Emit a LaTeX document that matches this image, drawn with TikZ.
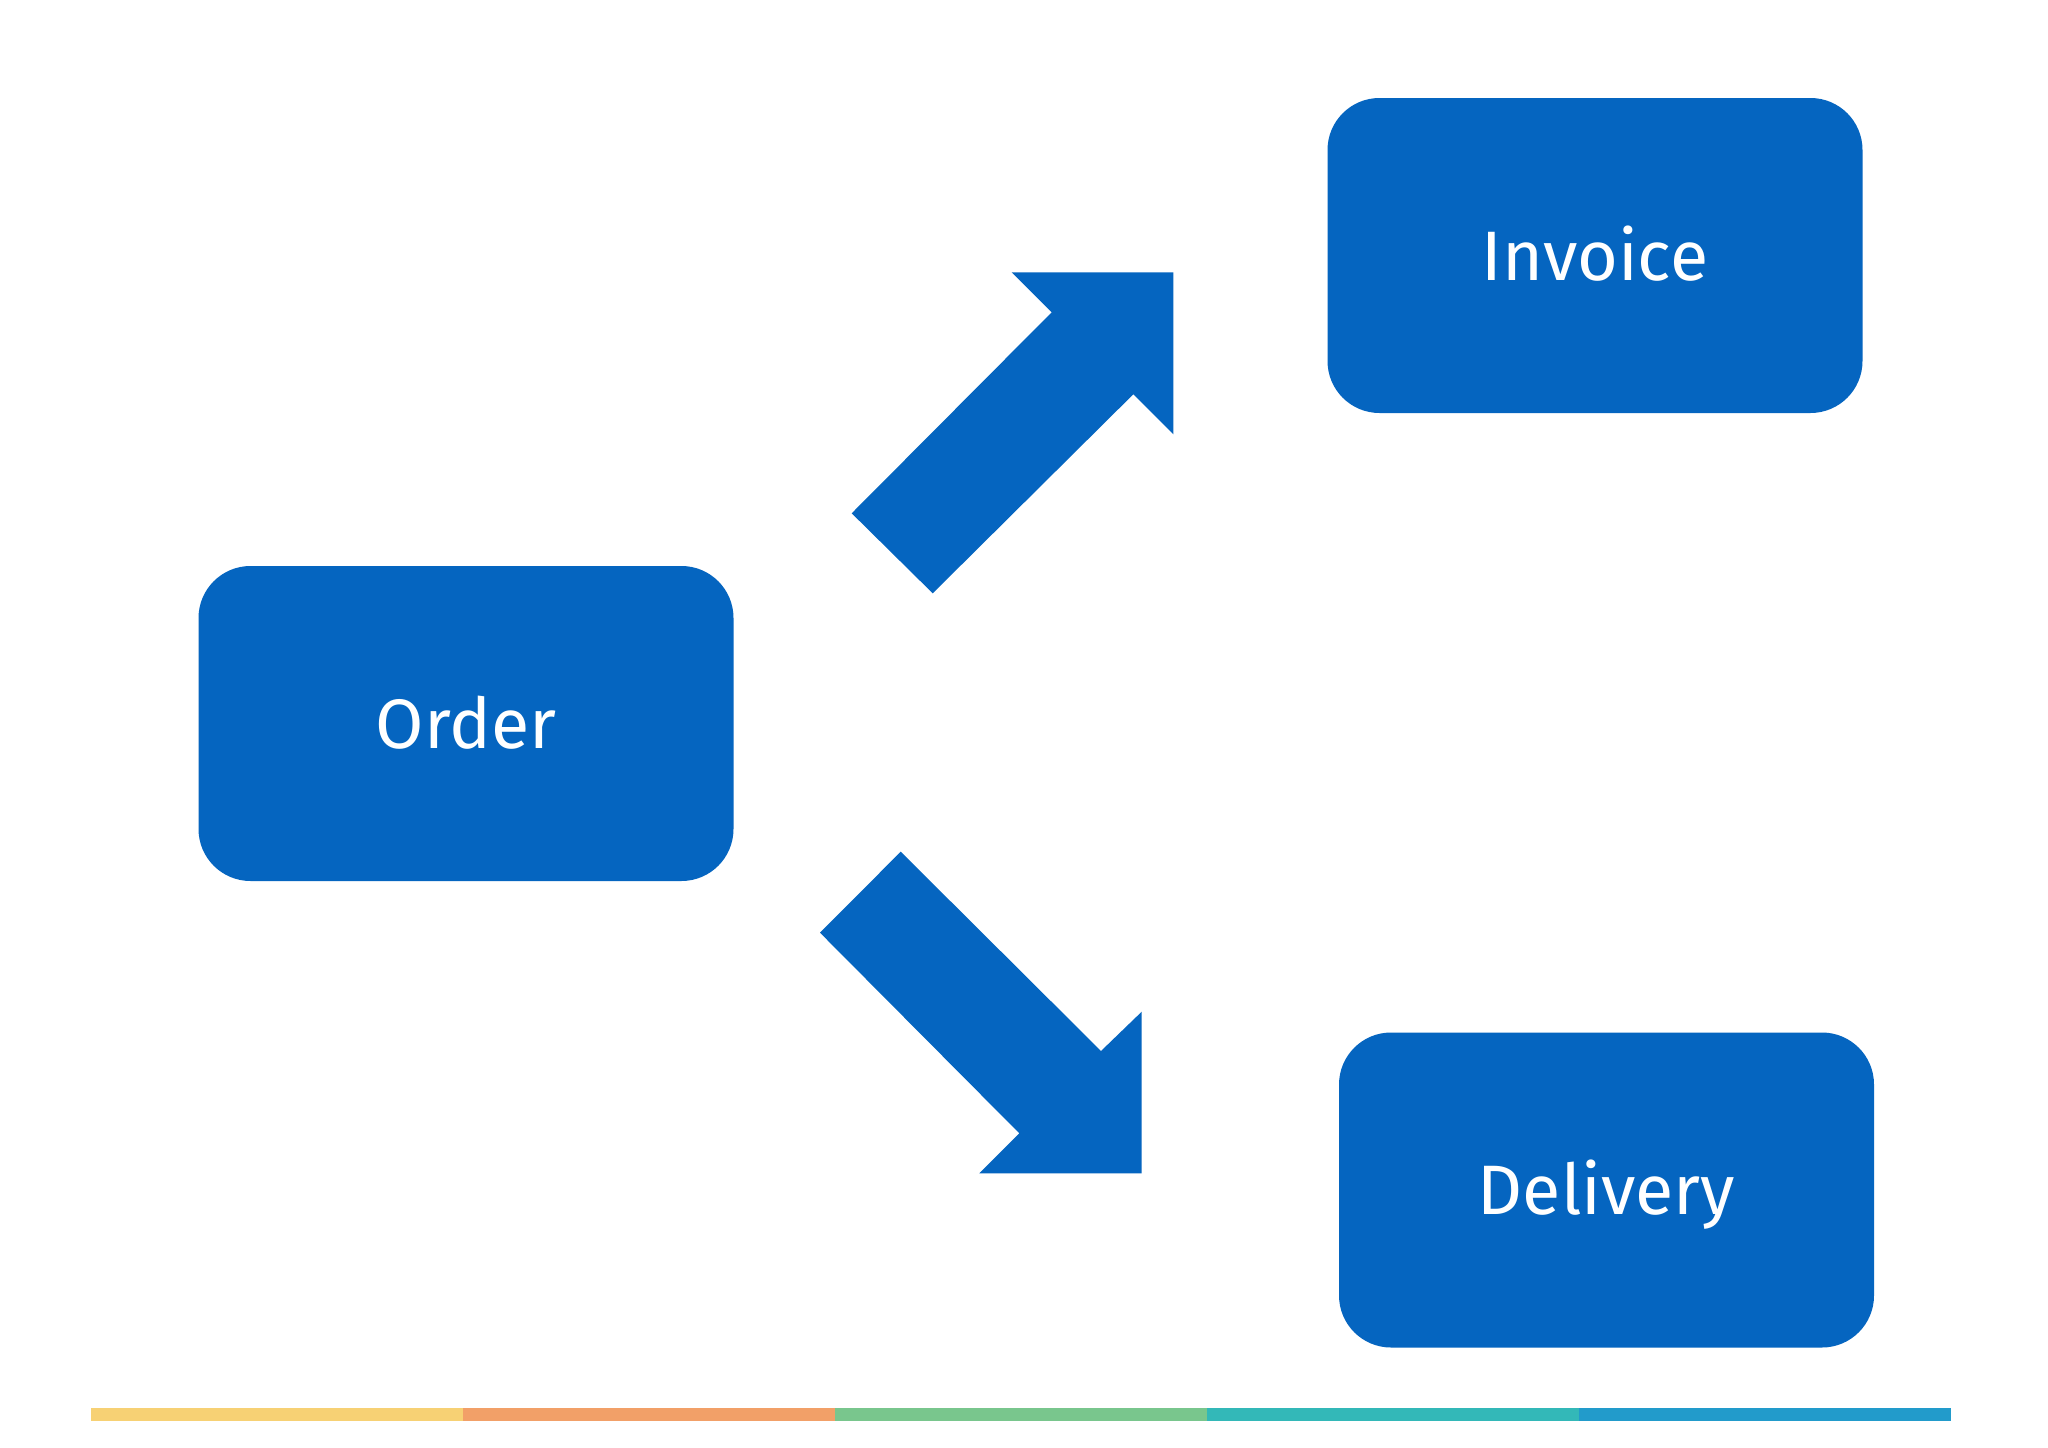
\documentclass[tikz,border=0pt]{standalone}
\usepackage{fontspec}
\setmainfont{Fira Sans}
\definecolor{boxblue}{HTML}{0565C0}
\definecolor{cY}{HTML}{F7D174}
\definecolor{cO}{HTML}{F2A068}
\definecolor{cG}{HTML}{79C68D}
\definecolor{cT}{HTML}{33B8B8}
\definecolor{cB}{HTML}{229BCB}
\begin{document}
\begin{tikzpicture}[x=1pt,y=-1pt,
  card/.style={fill=boxblue, rounded corners=52pt, minimum width=535pt, minimum height=315pt, inner sep=0pt,
    text=white, font=\fontsize{70}{84}\selectfont, text height=49pt, text depth=0pt},
  blockarrow/.style={fill=boxblue}]
\useasboundingbox[fill=white] (0,0) rectangle (2048,1448);
\node[card] (order) at (466,723.5) {Order};
\node[card] (invoice) at (1595,255.5) {Invoice};
\node[card] (delivery) at (1606.5,1190) {Delivery};
% block arrows
\fill[blockarrow] (851.7,513.3) -- (932.7,593.3) -- (1133.3,394.3) -- (1173.3,434.3)
  -- (1173.3,272.3) -- (1011.7,272.3) -- (1051.7,312.3) -- cycle;
\fill[blockarrow] (900.7,851.7) -- (820,932.7) -- (1019.3,1133.3) -- (979.3,1173.3)
  -- (1141.7,1173.3) -- (1141.7,1011.7) -- (1101,1051) -- cycle;
% colour bar
\fill[cY] (91.4,1408) rectangle (463.4,1421);
\fill[cO] (463.4,1408) rectangle (835.4,1421);
\fill[cG] (835.4,1408) rectangle (1207.4,1421);
\fill[cT] (1207.4,1408) rectangle (1579.4,1421);
\fill[cB] (1579.4,1408) rectangle (1951.4,1421);
\end{tikzpicture}
\end{document}
